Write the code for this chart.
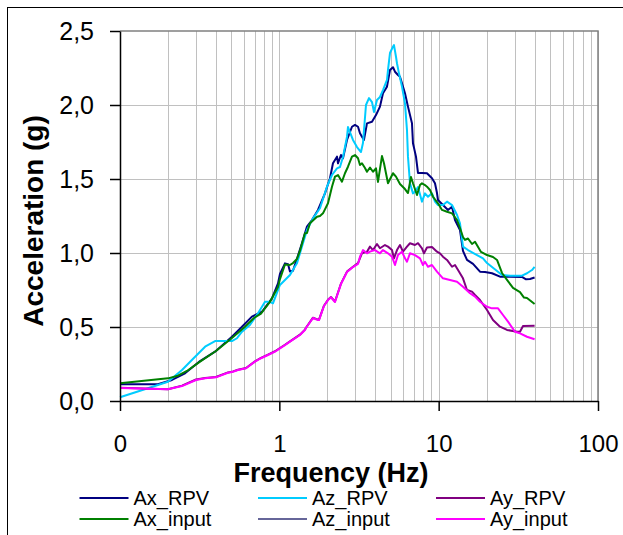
<!DOCTYPE html>
<html>
<head>
<meta charset="utf-8">
<script src="https://cdn.jsdelivr.net/npm/d3@7"></script>
<style>
  body { margin: 0; background: #fff; }
  svg { display: block; font-family: Arial, 'Liberation Sans', sans-serif; }
</style>
</head>
<body>
<svg id="chart"></svg>
<script>
// response spectra, [frequency Hz, acceleration g]
const axRPV = [[0.1,0.113],[0.173,0.113],[0.212,0.142],[0.256,0.187],[0.318,0.27],[0.395,0.333],[0.504,0.434],[0.583,0.502],[0.673,0.57],[0.778,0.603],[0.899,0.694],[0.981,0.795],[1.009,0.858],[1.085,0.93],[1.133,0.925],[1.166,0.875],[1.218,0.88],[1.29,0.96],[1.386,1.066],[1.491,1.178],[1.603,1.223],[1.748,1.291],[1.934,1.403],[2.079,1.505],[2.171,1.606],[2.301,1.651],[2.334,1.606],[2.437,1.662],[2.509,1.64],[2.658,1.764],[2.857,1.853],[2.984,1.865],[3.117,1.853],[3.207,1.809],[3.301,1.786],[3.398,1.764],[3.549,1.876],[3.815,1.887],[4.042,1.932],[4.282,1.989],[4.472,2.079],[4.738,2.124],[4.948,2.236],[5.168,2.255],[5.319,2.225],[5.555,2.203],[5.717,2.191],[5.885,2.147],[6.146,2.079],[6.418,1.989],[6.8,1.876],[6.899,1.741],[7.205,1.651],[7.417,1.541],[7.857,1.541],[8.447,1.539],[9.078,1.505],[9.482,1.471],[9.76,1.405],[9.902,1.358],[10.64,1.324],[11.44,1.291],[12.13,1.313],[12.66,1.223],[13.61,1.155],[14.21,1.014],[15.06,0.953],[16.43,0.926],[18.17,0.874],[19.53,0.872],[21.62,0.863],[24.26,0.84],[28.04,0.84],[33.34,0.838],[35.33,0.822],[37.43,0.824],[40,0.834]];

const azRPV = [[0.1,0.025],[0.2,0.13],[0.245,0.209],[0.296,0.299],[0.342,0.367],[0.395,0.405],[0.504,0.405],[0.542,0.424],[0.583,0.468],[0.654,0.514],[0.735,0.593],[0.813,0.671],[0.861,0.671],[0.912,0.66],[1.009,0.784],[1.085,0.818],[1.166,0.851],[1.29,0.93],[1.386,1.043],[1.491,1.155],[1.626,1.234],[1.799,1.302],[1.991,1.448],[2.14,1.527],[2.301,1.572],[2.402,1.581],[2.509,1.649],[2.658,1.784],[2.697,1.851],[2.899,1.764],[3.072,1.716],[3.254,1.682],[3.349,1.743],[3.498,2.0],[3.653,2.047],[3.815,2.02],[3.927,1.953],[4.101,2.034],[4.282,2.054],[4.472,2.101],[4.738,2.169],[4.807,2.236],[4.948,2.351],[5.168,2.394],[5.243,2.405],[5.397,2.326],[5.475,2.282],[5.636,2.214],[5.885,2.124],[6.146,2.011],[6.326,1.831],[6.418,1.651],[6.606,1.471],[6.899,1.403],[7.101,1.414],[7.417,1.446],[7.857,1.347],[8.205,1.403],[8.57,1.38],[9.078,1.403],[9.482,1.347],[9.902,1.324],[10.64,1.324],[11.28,1.347],[12.13,1.324],[13.04,1.257],[13.61,1.201],[14.21,1.043],[15.28,1.02],[17.41,0.986],[18.98,0.964],[20.11,0.932],[23.24,0.878],[24.97,0.851],[28.04,0.847],[33.34,0.847],[35.84,0.863],[38.53,0.885],[40,0.907]];

const ayRPV = [[0.1,0.09],[0.2,0.08],[0.245,0.104],[0.3,0.145],[0.342,0.155],[0.4,0.162],[0.476,0.193],[0.512,0.2],[0.55,0.211],[0.618,0.223],[0.703,0.268],[0.767,0.291],[0.849,0.314],[0.939,0.336],[1.009,0.358],[1.085,0.38],[1.166,0.403],[1.347,0.448],[1.448,0.482],[1.469,0.495],[1.626,0.563],[1.748,0.55],[1.774,0.55],[1.906,0.644],[2.02,0.684],[2.109,0.703],[2.235,0.672],[2.437,0.793],[2.658,0.874],[2.899,0.907],[3.117,0.932],[3.301,0.998],[3.549,1.009],[3.706,1.043],[3.871,1.02],[4.101,1.061],[4.282,1.032],[4.603,1.054],[4.807,1.043],[5.093,1.02],[5.243,0.964],[5.475,1.02],[5.717,1.054],[5.971,1.009],[6.326,1.043],[6.606,1.066],[7.101,1.054],[7.417,1.066],[7.857,1.032],[8.088,0.998],[8.447,1.037],[9.078,1.041],[9.76,1.009],[10.19,0.998],[10.64,0.975],[11.28,0.953],[12.13,0.907],[12.66,0.919],[13.23,0.885],[14.21,0.829],[15.06,0.75],[16.19,0.739],[16.91,0.716],[18.17,0.682],[20.11,0.615],[21.93,0.547],[24.26,0.502],[26.85,0.48],[31.03,0.468],[32.39,0.468],[33.83,0.507],[40,0.509]];

const axInput = [[0.1,0.12],[0.2,0.153],[0.231,0.171],[0.263,0.203],[0.318,0.266],[0.4,0.338],[0.504,0.426],[0.609,0.502],[0.693,0.561],[0.767,0.591],[0.873,0.669],[0.981,0.77],[1.009,0.824],[1.085,0.922],[1.166,0.919],[1.218,0.932],[1.29,0.959],[1.347,1.014],[1.448,1.133],[1.491,1.135],[1.557,1.201],[1.723,1.245],[1.799,1.25],[1.879,1.268],[2.02,1.336],[2.14,1.448],[2.235,1.516],[2.334,1.527],[2.472,1.482],[2.582,1.539],[2.697,1.583],[2.857,1.651],[2.984,1.662],[3.117,1.64],[3.207,1.595],[3.301,1.606],[3.448,1.574],[3.549,1.549],[3.706,1.578],[3.871,1.549],[4.042,1.572],[4.161,1.48],[4.407,1.655],[4.537,1.606],[4.807,1.471],[5.168,1.539],[5.397,1.516],[5.717,1.466],[6.146,1.432],[6.418,1.405],[6.702,1.514],[6.899,1.471],[7.31,1.392],[7.633,1.459],[7.857,1.471],[8.205,1.459],[8.447,1.448],[8.82,1.426],[9.212,1.38],[9.902,1.336],[10.49,1.291],[11.28,1.279],[12.13,1.268],[13.04,1.223],[13.61,1.169],[14.21,1.108],[14.63,1.088],[15.28,1.098],[16.19,1.061],[16.91,1.076],[18.44,1.007],[20.11,0.986],[21.93,0.973],[23.24,0.953],[24.97,0.865],[26.85,0.818],[29.28,0.764],[32.39,0.736],[34.32,0.699],[35.84,0.696],[40,0.655]];

// Az_input only shows in the legend
const azInput = [];

const ayInput = [[0.1,0.088],[0.2,0.079],[0.245,0.101],[0.3,0.142],[0.342,0.153],[0.4,0.16],[0.476,0.191],[0.512,0.198],[0.55,0.209],[0.618,0.221],[0.703,0.266],[0.767,0.289],[0.849,0.311],[0.939,0.333],[1.009,0.356],[1.085,0.378],[1.166,0.401],[1.347,0.446],[1.448,0.48],[1.469,0.493],[1.626,0.561],[1.748,0.547],[1.774,0.547],[1.906,0.642],[2.02,0.682],[2.109,0.701],[2.235,0.669],[2.437,0.791],[2.658,0.872],[2.899,0.905],[3.117,0.926],[3.207,0.975],[3.349,1.02],[3.549,0.998],[3.706,1.009],[3.984,1.02],[4.282,0.998],[4.472,1.02],[4.807,0.998],[5.093,0.975],[5.319,0.919],[5.555,0.986],[5.885,1.009],[6.146,0.964],[6.326,0.941],[6.606,0.998],[7.101,0.986],[7.633,0.964],[7.972,0.919],[8.205,0.941],[8.57,0.907],[9.078,0.919],[9.76,0.874],[10.64,0.829],[11.78,0.818],[13.04,0.806],[14.21,0.772],[15.73,0.728],[16.91,0.705],[18.17,0.671],[20.11,0.637],[21.62,0.626],[23.58,0.626],[25.34,0.581],[27.24,0.536],[30.14,0.468],[32.39,0.457],[35.84,0.434],[40,0.417]];

const seriesNames = ['Ax_RPV', 'Az_RPV', 'Ay_RPV', 'Ax_input', 'Az_input', 'Ay_input'];
const seriesData = [axRPV, azRPV, ayRPV, axInput, azInput, ayInput];
const seriesColors = ['#000080', '#00ccff', '#800080', '#008000', '#666699', '#ff00ff'];

const xTickValues = [0.1, 1, 10, 100];
const xTickLabels = ['0', '1', '10', '100'];
const yTickValues = [0, 0.5, 1, 1.5, 2, 2.5];

function drawChart(width, height) {
  let svg = d3
    .select('#chart')
    .attr('width', width)
    .attr('height', height);

  // chart area frame (runs off the bottom/right of the picture)
  svg
    .append('rect')
    .attr('x', 7.5)
    .attr('y', 7.5)
    .attr('width', 900)
    .attr('height', 900)
    .attr('fill', 'none')
    .attr('stroke', '#000')
    .attr('stroke-width', 1);

  let x = d3
      .scaleLog()
      .domain([0.1, 100])
      .range([120, 598]),
    y = d3
      .scaleLinear()
      .domain([0, 2.5])
      .range([401, 31]);

  let grid = svg.append('g').classed('grid', true);
  grid
    .selectAll('.vgrid')
    .data(x.ticks())
    .enter()
    .append('line')
    .classed('vgrid', true)
    .attr('x1', d => Math.round(x(d)) + 0.5)
    .attr('x2', d => Math.round(x(d)) + 0.5)
    .attr('y1', y(2.5))
    .attr('y2', y(0))
    .attr('stroke', '#c0c0c0')
    .attr('stroke-width', 1);
  grid
    .selectAll('.hgrid')
    .data(yTickValues.slice(1, -1))
    .enter()
    .append('line')
    .classed('hgrid', true)
    .attr('x1', x(0.1))
    .attr('x2', x(100))
    .attr('y1', d => Math.round(y(d)) + 0.5)
    .attr('y2', d => Math.round(y(d)) + 0.5)
    .attr('stroke', '#c0c0c0')
    .attr('stroke-width', 1);

  // top and right edge of plot area
  svg
    .append('path')
    .attr('d', `M${x(0.1)},${y(2.5)}H${x(100)}V${y(0)}`)
    .attr('fill', 'none')
    .attr('stroke', '#808080')
    .attr('stroke-width', 1.5);

  let line = d3
    .line()
    .x(d => x(d[0]))
    .y(d => y(d[1]));

  svg
    .append('g')
    .classed('series', true)
    .selectAll('path')
    .data(seriesData)
    .enter()
    .append('path')
    .attr('d', d => (d.length ? line(d) : null))
    .attr('fill', 'none')
    .attr('stroke', (d, i) => seriesColors[i])
    .attr('stroke-width', 2)
    .attr('stroke-linejoin', 'round');

  let yAxis = svg
    .append('g')
    .attr('transform', 'translate(' + x(0.1) + ',0)')
    .call(
      d3
        .axisLeft(y)
        .tickValues(yTickValues)
        .tickSize(10)
        .tickSizeOuter(0)
        .tickPadding(16)
        .tickFormat(d => d.toFixed(1).replace('.', ','))
    );

  let xAxis = svg
    .append('g')
    .attr('transform', 'translate(0,' + y(0) + ')')
    .call(
      d3
        .axisBottom(x)
        .tickValues(xTickValues)
        .tickSize(10)
        .tickSizeOuter(0)
        .tickPadding(24)
        .tickFormat((d, i) => xTickLabels[i])
    );

  [xAxis, yAxis].forEach(ax => {
    ax.selectAll('path, line').attr('stroke', '#000').attr('stroke-width', 1.5);
    ax.selectAll('text')
      .attr('fill', '#000')
      .style('font-size', '24px')
      .style('font-family', "Arial, 'Liberation Sans', sans-serif");
  });
  yAxis.selectAll('text').style('font-size', '25px');

  svg
    .append('text')
    .attr('x', 331)
    .attr('y', 482)
    .attr('text-anchor', 'middle')
    .style('font-size', '27px')
    .style('font-weight', 'bold')
    .text('Frequency (Hz)');

  svg
    .append('text')
    .attr('transform', 'translate(43,221) rotate(-90)')
    .attr('text-anchor', 'middle')
    .style('font-size', '28px')
    .style('font-weight', 'bold')
    .text('Acceleration (g)');

  // legend: 3 columns x 2 rows
  let legendX = [79.5, 258, 436],
    legendY = [498, 519];
  let items = svg
    .append('g')
    .classed('legend', true)
    .selectAll('g')
    .data(seriesNames)
    .enter()
    .append('g')
    .attr('transform', (d, i) => 'translate(' + legendX[i % 3] + ',' + legendY[Math.floor(i / 3)] + ')');
  items
    .append('line')
    .attr('x1', 0)
    .attr('x2', 49)
    .attr('stroke', (d, i) => seriesColors[i])
    .attr('stroke-width', 2);
  items
    .append('text')
    .attr('x', 54)
    .attr('dy', '0.35em')
    .style('font-size', '20px')
    .text(d => d);
}

drawChart(623, 535);
</script>
</body>
</html>
